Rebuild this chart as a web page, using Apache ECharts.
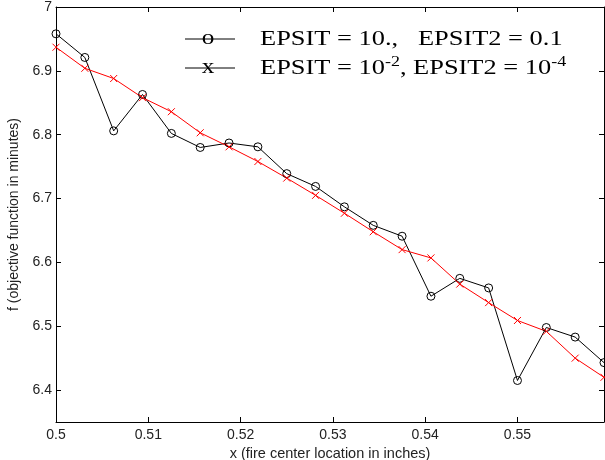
<!DOCTYPE html>
<html>
<head>
<meta charset="utf-8">
<script src="https://cdn.jsdelivr.net/npm/echarts@6/dist/echarts.min.js"></script>
<style>
  html, body { margin: 0; padding: 0; background: #fff; }
  #main { width: 605px; height: 460px; }
</style>
</head>
<body>
<div id="main"></div>
<script>
// x positions of the fire center (inches)
const xVals = [0.5, 0.503125, 0.50625, 0.509375, 0.5125, 0.515625, 0.51875, 0.521875, 0.525, 0.528125,
  0.53125, 0.534375, 0.5375, 0.540625, 0.54375, 0.546875, 0.55, 0.553125, 0.55625, 0.559375];
// EPSIT = 10., EPSIT2 = 0.1
const coarse = [6.958, 6.921, 6.806, 6.863, 6.802, 6.780, 6.787, 6.781, 6.739, 6.719,
  6.687, 6.658, 6.641, 6.547, 6.575, 6.560, 6.415, 6.498, 6.483, 6.443];
// EPSIT = 1e-2, EPSIT2 = 1e-4
const fine = [6.937, 6.904, 6.888, 6.858, 6.836, 6.803, 6.781, 6.758, 6.732, 6.705,
  6.677, 6.648, 6.620, 6.607, 6.566, 6.537, 6.509, 6.492, 6.450, 6.420];
const xTicks = [0.5, 0.51, 0.52, 0.53, 0.54, 0.55];
const yTicks = [6.4, 6.5, 6.6, 6.7, 6.8, 6.9, 7];

const chart = echarts.init(document.getElementById('main'));

const pairs = arr => arr.map((v, i) => [xVals[i], v]);
const labelFont = { color: '#222', fontFamily: 'Liberation Sans, Arial', fontSize: 14 };
const xMin = 0.5, xMax = 0.559375, yMin = 6.35, yMax = 7;

function xAxisCfg(pos, showLabel) {
  return {
    type: 'value', position: pos, min: xMin, max: xMax,
    axisLine: { show: true, onZero: false, lineStyle: { color: '#000', width: 1 } },
    axisTick: { show: true, inside: true, length: 5, customValues: xTicks, lineStyle: { color: '#000' } },
    axisLabel: { show: showLabel, customValues: xTicks, margin: 6, ...labelFont, formatter: v => String(v) },
    splitLine: { show: false }
  };
}
function yAxisCfg(pos, showLabel) {
  return {
    type: 'value', position: pos, min: yMin, max: yMax,
    axisLine: { show: true, onZero: false, lineStyle: { color: '#000', width: 1 } },
    axisTick: { show: true, inside: true, length: 5, customValues: yTicks, lineStyle: { color: '#000' } },
    axisLabel: { show: showLabel, customValues: yTicks, margin: 4, ...labelFont, formatter: v => String(v) },
    splitLine: { show: false }
  };
}

const xBottom = xAxisCfg('bottom', true);
xBottom.name = 'x (fire center location in inches)';
xBottom.nameLocation = 'middle';
xBottom.nameGap = 24;
xBottom.nameTextStyle = { ...labelFont, fontSize: 14.5 };
const yLeft = yAxisCfg('left', true);
yLeft.name = 'f (objective function in minutes)';
yLeft.nameLocation = 'middle';
yLeft.nameGap = 27;
yLeft.nameTextStyle = { ...labelFont, fontSize: 14 };

const serif = 'Liberation Serif, Times New Roman, serif';
const stretch = 1.2;

chart.setOption({
  backgroundColor: '#fff',
  animation: false,
  grid: { left: 56, right: 1, top: 7, bottom: 38, containLabel: false, outerBoundsMode: 'none' },
  xAxis: [xBottom, xAxisCfg('top', false)],
  yAxis: [yLeft, yAxisCfg('right', false)],
  series: [
    {
      name: 'coarse', type: 'line', data: pairs(coarse),
      symbol: 'circle', symbolSize: 8,
      lineStyle: { color: '#000', width: 1 },
      itemStyle: { color: 'rgba(0,0,0,0)', borderColor: '#000', borderWidth: 1 }
    },
    {
      name: 'fine', type: 'line', data: pairs(fine),
      symbol: 'path://M0,0L10,10M10,0L0,10', symbolSize: 7,
      lineStyle: { color: '#ff0000', width: 1 },
      itemStyle: { color: '#ff0000', borderColor: '#ff0000', borderWidth: 1 }
    }
  ],
  graphic: [
    { type: 'line', shape: { x1: 185, y1: 39, x2: 235, y2: 39 }, style: { stroke: '#000', lineWidth: 1 } },
    { type: 'text', x: 208, y: 38, scaleX: stretch, style: { text: 'o', font: '21px ' + serif, fill: '#000', align: 'center', verticalAlign: 'middle' } },
    { type: 'line', shape: { x1: 185, y1: 68, x2: 235, y2: 68 }, style: { stroke: '#000', lineWidth: 1 } },
    { type: 'text', x: 208, y: 67, scaleX: stretch, style: { text: 'x', font: '21px ' + serif, fill: '#000', align: 'center', verticalAlign: 'middle' } },
    { type: 'text', x: 260, y: 39, scaleX: stretch, style: { text: 'EPSIT = 10.,   EPSIT2 = 0.1', font: '22px ' + serif, fill: '#000', verticalAlign: 'middle' } },
    {
      type: 'text', x: 260, y: 68, scaleX: stretch,
      style: {
        text: 'EPSIT = 10{sup|-2}, EPSIT2 = 10{sup|-4}',
        font: '22px ' + serif, fill: '#000', verticalAlign: 'middle',
        rich: { sup: { fontSize: 15, fontFamily: serif, fill: '#000', padding: [0, 0, 12, 0] } }
      }
    }
  ]
});
</script>
</body>
</html>
